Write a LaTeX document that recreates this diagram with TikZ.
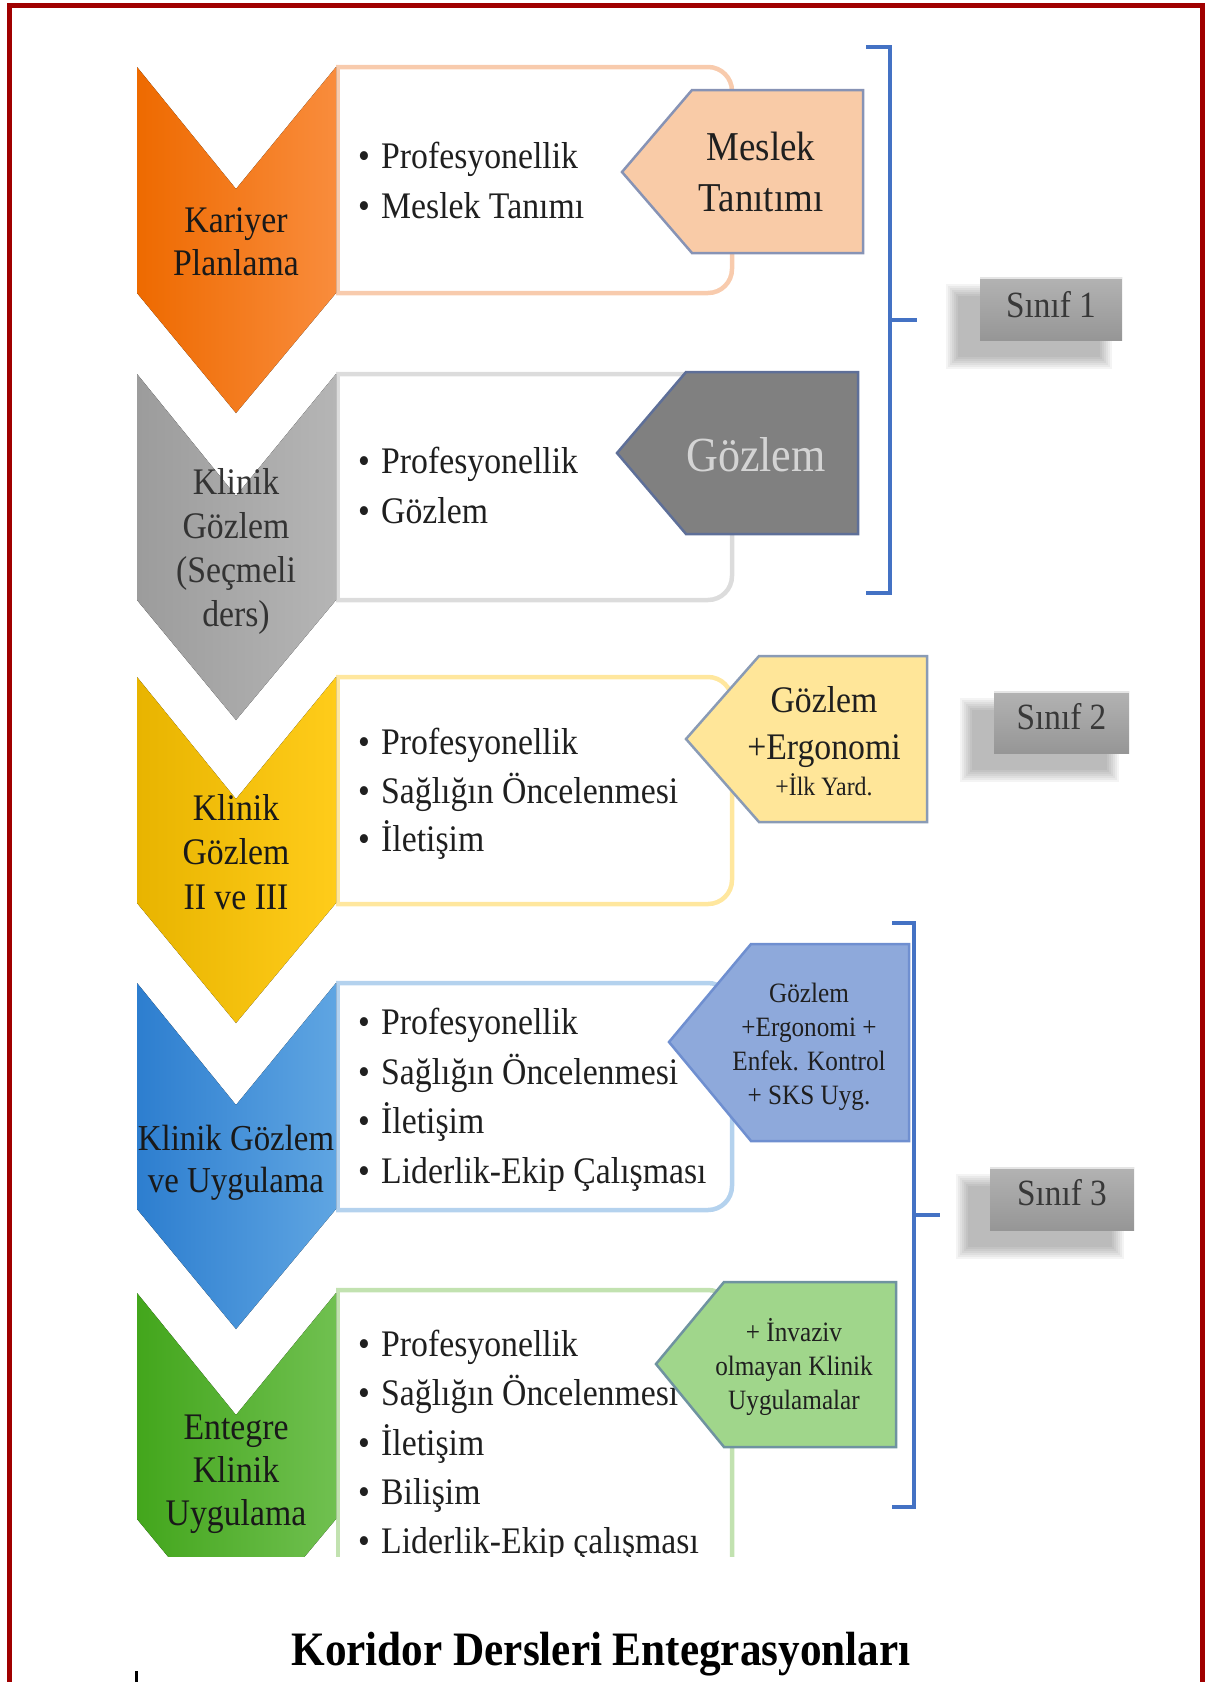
\documentclass[tikz,border=0pt]{standalone}
\usepackage{fontspec}
\setmainfont{Liberation Serif}[FakeStretch=0.9]
\definecolor{frameRed}{HTML}{A00000}
\definecolor{orL}{HTML}{EE6A00}\definecolor{orM}{HTML}{FF7F00}\definecolor{orR}{HTML}{F98C3C}
\definecolor{grL}{HTML}{9C9C9C}\definecolor{grM}{HTML}{A6A6A6}\definecolor{grR}{HTML}{B5B5B5}
\definecolor{yeL}{HTML}{E8B400}\definecolor{yeM}{HTML}{FFC600}\definecolor{yeR}{HTML}{FFCC1A}
\definecolor{blL}{HTML}{2D7ECF}\definecolor{blM}{HTML}{3F93DE}\definecolor{blR}{HTML}{5FA5E2}
\definecolor{gnL}{HTML}{43A61C}\definecolor{gnM}{HTML}{57B637}\definecolor{gnR}{HTML}{70C050}
\definecolor{boA}{HTML}{F8CBAD}\definecolor{boB}{HTML}{DCDCDC}\definecolor{boC}{HTML}{FFE79E}
\definecolor{boD}{HTML}{B4D2EE}\definecolor{boE}{HTML}{C2E2B0}
\definecolor{pfA}{HTML}{F9CBA7}\definecolor{pfB}{HTML}{808080}\definecolor{pfC}{HTML}{FFE699}
\definecolor{pfD}{HTML}{8EA9DB}\definecolor{pfE}{HTML}{A0D68B}
\definecolor{poA}{HTML}{8793B5}\definecolor{poB}{HTML}{5E6F98}\definecolor{poC}{HTML}{8A9BB5}
\definecolor{poD}{HTML}{6F8FD0}\definecolor{poE}{HTML}{6F93A0}
\definecolor{brace}{HTML}{4472C4}
\definecolor{sinTop}{HTML}{B3B3B3}\definecolor{sinBot}{HTML}{969696}
\tikzset{
  item/.style={anchor=base west, inner sep=0pt, font=\fontsize{37.5}{40}\selectfont, text=black!88,
    execute at begin node={\makebox[23pt][l]{•}}},
  lbl/.style={anchor=base, inner sep=0pt, font=\fontsize{37.5}{40}\selectfont, text=black!90},
  plbl/.style={anchor=base, inner sep=0pt, text=black!88},
  sinlbl/.style={anchor=base, inner sep=0pt, font=\fontsize{37}{40}\selectfont, text=black!78},
  boxline/.style={line width=4.5pt, rounded corners=24pt},
  pent/.style={line width=2.5pt, line join=miter},
  bracket/.style={line width=4pt, draw=brace},
}
\newcommand\chevshape[4]{%
  \fill[left color=#2, middle color=#3, right color=#4]
    (137,#1) -- (236,#1+122) -- (336,#1) -- (336,#1+226) -- (236,#1+346) -- (137,#1+226) -- cycle;}
\newcommand\contbox[3]{%
  \draw[boxline, draw=#3] (336,#1) -- (732,#1) -- (732,#2) -- (336,#2);
  \draw[line width=4.5pt, draw=#3] (338,#1) -- (338,#2);}
\newcommand\sinifbox[7]{% name x1 y1 x2 y2 baseline text
  \foreach \e in {12,10,8,6,4,2,0}
    \fill[black, opacity=0.045] (#2-22-\e, #3+19-\e) rectangle (#4-22+\e, #5+17+\e);
  \fill[top color=sinTop, bottom color=sinBot] (#2,#3) rectangle (#4,#5);
  \draw[line width=2pt, draw=white!80!gray] (#2,#3+1) -- (#4,#3+1);
  \node[sinlbl] (#1) at ({(#2+#4)/2}, #6) {#7};}
\begin{document}
\begin{tikzpicture}[x=1pt,y=-1pt]
\useasboundingbox (0,0) rectangle (1208,1682);
\begin{scope}
  \clip (0,0) rectangle (1208,1682);
  \draw[line width=5pt, draw=frameRed] (9,1700) -- (9,5) -- (1202,5) -- (1202,1700);
  \draw[line width=3pt, black] (136,1671) -- (136,1690);
\end{scope}

\begin{scope}
  \clip (0,0) rectangle (1208,1556);
  % content boxes
  \contbox{67}{293}{boA}
  \contbox{374}{600}{boB}
  \contbox{677}{904}{boC}
  \contbox{983}{1210}{boD}
  \contbox{1290}{1620}{boE}
  % chevrons
  \chevshape{67}{orL}{orM}{orR}
  \chevshape{374}{grL}{grM}{grR}
  \chevshape{677}{yeL}{yeM}{yeR}
  \chevshape{983}{blL}{blM}{blR}
  \chevshape{1293}{gnL}{gnM}{gnR}
  % chevron labels
  \foreach \t [count=\i] in {Kariyer,Planlama}
    \node[lbl] (ca-\i) at (236, 232+43*\i-43) {\t};
  \foreach \t [count=\i] in {Klinik,Gözlem,{(Seçmeli},{ders)}}
    \node[lbl, text=black!80] (cb-\i) at (236, 494+44.3*\i-44.3) {\t};
  \foreach \t [count=\i] in {Klinik,Gözlem,II ve III}
    \node[lbl] (cc-\i) at (236, 820+44.5*\i-44.5) {\t};
  \foreach \t [count=\i] in {Klinik Gözlem,ve Uygulama}
    \node[lbl, font=\fontsize{36.5}{40}\selectfont] (cd-\i) at (236, 1150+42*\i-42) {\t};
  \foreach \t [count=\i] in {Entegre,Klinik,Uygulama}
    \node[lbl] (ce-\i) at (236, 1439+43*\i-43) {\t};
  % bullet items
  \foreach \t [count=\i] in {Profesyonellik,Meslek Tanımı}
    \node[item] (ia-\i) at (358, 168.5+50*\i-50) {\t};
  \foreach \t [count=\i] in {Profesyonellik,Gözlem}
    \node[item] (ib-\i) at (358, 473.5+50*\i-50) {\t};
  \foreach \t [count=\i] in {Profesyonellik,Sağlığın Öncelenmesi,İletişim}
    \node[item] (ic-\i) at (358, 754.5+48.5*\i-48.5) {\t};
  \foreach \t [count=\i] in {Profesyonellik,Sağlığın Öncelenmesi,İletişim,Liderlik-Ekip Çalışması}
    \node[item] (id-\i) at (358, 1034.5+49.7*\i-49.7) {\t};
  \foreach \t [count=\i] in {Profesyonellik,Sağlığın Öncelenmesi,İletişim,Bilişim,Liderlik-Ekip çalışması}
    \node[item] (ie-\i) at (358, 1356.5+49.3*\i-49.3) {\t};
  % pentagons
  \draw[pent, fill=pfA, draw=poA] (622,172) -- (692,90) -- (863,90) -- (863,253) -- (692,253) -- cycle;
  \draw[pent, fill=pfB, draw=poB] (617,453) -- (686,372) -- (858,372) -- (858,534) -- (686,534) -- cycle;
  \draw[pent, fill=pfC, draw=poC] (686,739) -- (759,656) -- (927,656) -- (927,822) -- (759,822) -- cycle;
  \draw[pent, fill=pfD, draw=poD] (669,1042) -- (751,944) -- (909,944) -- (909,1141) -- (751,1141) -- cycle;
  \draw[pent, fill=pfE, draw=poE] (656,1364) -- (724,1282) -- (896,1282) -- (896,1447) -- (724,1447) -- cycle;
  % pentagon labels
  \foreach \t [count=\i] in {Meslek,Tanıtımı}
    \node[plbl, font=\fontsize{41}{44}\selectfont] (pa-\i) at (761, 160.5+51*\i-51) {\t};
  \node[plbl, font=\fontsize{49}{52}\selectfont, text=white!83!black] (pb-1) at (756, 471) {Gözlem};
  \node[plbl, font=\fontsize{37.5}{40}\selectfont] (pc-1) at (824, 712) {Gözlem};
  \node[plbl, font=\fontsize{37.5}{40}\selectfont] (pc-2) at (824, 759) {+Ergonomi};
  \node[plbl, font=\fontsize{26.5}{30}\selectfont] (pc-3) at (824, 795.5) {+İlk Yard.};
  \foreach \t [count=\i] in {Gözlem,+Ergonomi +,Enfek. Kontrol,+ SKS Uyg.}
    \node[plbl, font=\fontsize{28}{30}\selectfont] (pd-\i) at (809, 1002+34*\i-34) {\t};
  \foreach \t [count=\i] in {+ İnvaziv,olmayan Klinik,Uygulamalar}
    \node[plbl, font=\fontsize{28}{30}\selectfont] (pe-\i) at (794, 1341+34*\i-34) {\t};
\end{scope}

% brackets
\draw[bracket] (866,47) -- (890,47) -- (890,593) -- (866,593);
\draw[bracket] (890,320) -- (917,320);
\draw[bracket] (892,923) -- (914,923) -- (914,1507) -- (892,1507);
\draw[bracket] (914,1215) -- (940,1215);

% class boxes
\sinifbox{s1}{980}{277}{1122}{340}{317}{Sınıf 1}
\sinifbox{s2}{994}{691}{1129}{753}{729}{Sınıf 2}
\sinifbox{s3}{990}{1167}{1134}{1230}{1205}{Sınıf 3}

% title
\node[anchor=base, inner sep=0pt, font=\bfseries\fontsize{48}{52}\selectfont] (title) at (601,1665)
  {Koridor Dersleri Entegrasyonları};
\end{tikzpicture}
\end{document}
